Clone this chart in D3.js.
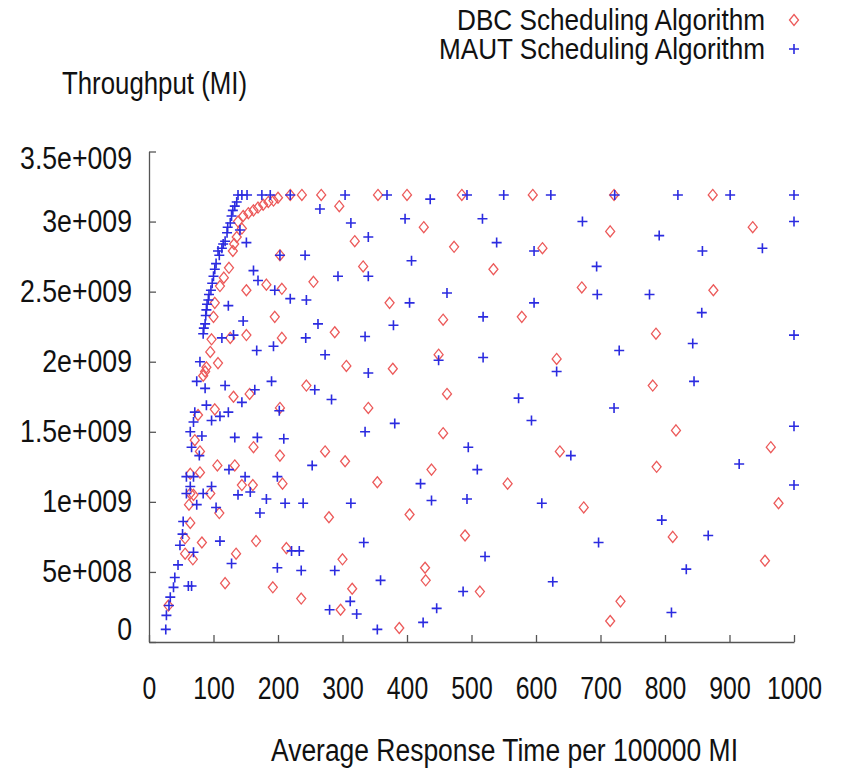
<!DOCTYPE html>
<html><head><meta charset="utf-8">
<script src="https://cdn.jsdelivr.net/npm/d3@7"></script>
<style>
body{margin:0;background:#fff}
svg{display:block}
text{font-family:"Liberation Sans",Arial,Helvetica,sans-serif;fill:#111}
</style>
</head><body>
<svg id="c" width="842" height="782"></svg>
<script>
const xTicks=[0,100,200,300,400,500,600,700,800,900,1000];
const xTickLabels=["0","100","200","300","400","500","600","700","800","900","1000"];
const yTicks=[0,5e8,1e9,1.5e9,2e9,2.5e9,3e9,3.5e9];
const yTickLabels=["0","5e+008","1e+009","1.5e+009","2e+009","2.5e+009","3e+009","3.5e+009"];
const seriesNames=["DBC Scheduling Algorithm","MAUT Scheduling Algorithm"];
const xTitle="Average Response Time per 100000 MI";
const yTitle="Throughput (MI)";

const dbcPoints=[
[219,3.19e9],[237,3.19e9],[267,3.19e9],[355,3.19e9],[400,3.19e9],[485,3.19e9],[595,3.19e9],[721,3.19e9],[874,3.19e9],
[295,3.11e9],[319,2.86e9],
[200,3.17e9],[193,3.15e9],[185,3.14e9],[177,3.12e9],[169,3.10e9],[162,3.08e9],[154,3.06e9],[146,3.04e9],[144,2.95e9],[136,2.89e9],[130,2.79e9],[124,2.67e9],[110,2.54e9],[102,2.42e9],[100,2.32e9],[97,2.16e9],[138,3.00e9],[132,2.84e9],[116,2.60e9],
[151,2.51e9],[182,2.55e9],[206,2.52e9],[203,2.76e9],[255,2.57e9],[195,2.32e9],[288,2.21e9],[151,2.19e9],[206,2.17e9],[332,2.68e9],
[126,2.17e9],[306,1.97e9],[95,2.07e9],[107,1.99e9],[89,1.96e9],[87,1.93e9],[84,1.90e9],[131,1.75e9],[156,1.77e9],[244,1.83e9],[102,1.66e9],[76,1.62e9],[203,1.67e9],[340,1.67e9],[162,1.39e9],[203,1.33e9],[273,1.36e9],[304,1.29e9],[71,1.44e9],[79,1.36e9],[106,1.26e9],[133,1.26e9],[64,1.20e9],[79,1.21e9],[144,1.12e9],[161,1.12e9],[207,1.13e9],
[64,1.06e9],[69,1.05e9],[95,1.06e9],[62,0.98e9],[109,0.92e9],[279,0.89e9],[64,0.85e9],[56,0.74e9],[82,0.71e9],[166,0.72e9],[213,0.67e9],[56,0.63e9],[68,0.59e9],[135,0.63e9],[300,0.59e9],[118,0.42e9],[192,0.39e9],[236,0.31e9],[315,0.38e9],[30,0.26e9],[297,0.23e9],
[426,2.96e9],[473,2.82e9],[610,2.81e9],[534,2.66e9],[671,2.53e9],[373,2.42e9],[456,2.30e9],[578,2.32e9],
[449,2.05e9],[632,2.02e9],[378,1.95e9],[462,1.77e9],[456,1.49e9],[637,1.36e9],[438,1.23e9],[354,1.14e9],[556,1.13e9],
[674,0.96e9],[404,0.91e9],[490,0.76e9],[428,0.53e9],[429,0.44e9],[513,0.36e9],[388,0.10e9],
[715,2.93e9],[936,2.96e9],[875,2.51e9],[786,2.20e9],
[781,1.83e9],[817,1.51e9],[964,1.39e9],[787,1.25e9],
[976,0.99e9],[812,0.75e9],[955,0.58e9],[731,0.29e9],[715,0.15e9]
];

const mautPoints=[
[138,3.19e9],[144,3.19e9],[152,3.19e9],[175,3.19e9],[188,3.19e9],[219,3.19e9],[304,3.19e9],[369,3.19e9],[436,3.16e9],[493,3.19e9],[550,3.19e9],[623,3.19e9],[722,3.19e9],[820,3.19e9],[901,3.19e9],[1000,3.19e9],
[133,3.11e9],[128,3.04e9],[126,2.99e9],[121,2.92e9],[118,2.86e9],[113,2.81e9],[107,2.79e9],[104,2.70e9],[100,2.61e9],[96,2.51e9],[92,2.44e9],[89,2.37e9],[87,2.27e9],[84,2.20e9],
[136,3.14e9],[130,3.08e9],[122,2.96e9],[115,2.84e9],[109,2.76e9],[102,2.66e9],[98,2.56e9],[93,2.48e9],[90,2.41e9],[88,2.33e9],[85,2.24e9],
[265,3.09e9],[313,2.99e9],[340,2.89e9],[141,2.94e9],[151,2.85e9],[162,2.65e9],[169,2.58e9],[195,2.51e9],[219,2.45e9],[244,2.44e9],[203,2.76e9],[242,2.76e9],[293,2.61e9],[262,2.27e9],[123,2.40e9],[146,2.29e9],[243,2.17e9],[335,2.18e9],[131,2.19e9],
[113,2.17e9],[167,2.08e9],[193,2.11e9],[273,2.05e9],[340,1.92e9],[79,2.00e9],[74,1.86e9],[87,1.81e9],[118,1.83e9],[144,1.71e9],[164,1.80e9],[190,1.86e9],[257,1.80e9],[283,1.73e9],[89,1.69e9],[123,1.64e9],[110,1.61e9],[97,1.58e9],[71,1.64e9],[69,1.57e9],[202,1.65e9],[64,1.50e9],[82,1.47e9],[133,1.46e9],[168,1.46e9],[209,1.45e9],[253,1.26e9],[335,1.50e9],[66,1.39e9],[78,1.33e9],[124,1.23e9],[149,1.18e9],[199,1.18e9],[58,1.18e9],[69,1.18e9],[64,1.11e9],[97,1.11e9],
[58,1.06e9],[84,1.06e9],[138,1.05e9],[157,1.07e9],[182,1.02e9],[211,0.99e9],[239,0.99e9],[313,0.99e9],[74,0.98e9],[104,0.96e9],[172,0.92e9],[53,0.86e9],[52,0.77e9],[48,0.69e9],[110,0.72e9],[221,0.65e9],[233,0.65e9],[333,0.71e9],[69,0.64e9],[45,0.55e9],[128,0.56e9],[199,0.53e9],[236,0.51e9],[288,0.51e9],[40,0.46e9],[38,0.39e9],[61,0.40e9],[66,0.40e9],[33,0.32e9],[31,0.26e9],[27,0.19e9],[26,0.09e9],[280,0.23e9],[312,0.29e9],[322,0.20e9],
[397,3.02e9],[517,3.02e9],[672,3.00e9],[539,2.85e9],[597,2.79e9],[407,2.72e9],[340,2.61e9],[462,2.49e9],[404,2.42e9],[597,2.42e9],[379,2.26e9],[518,2.32e9],
[449,2.01e9],[518,2.03e9],[632,1.93e9],[573,1.74e9],[381,1.56e9],[593,1.58e9],[495,1.39e9],[654,1.33e9],[509,1.23e9],[421,1.13e9],
[438,1.01e9],[493,1.02e9],[609,0.99e9],[521,0.61e9],[359,0.44e9],[487,0.36e9],[626,0.43e9],[446,0.24e9],[425,0.14e9],[354,0.09e9],
[791,2.90e9],[858,2.79e9],[1000,3.00e9],[951,2.81e9],[694,2.68e9],[695,2.48e9],[776,2.48e9],[857,2.35e9],[1000,2.19e9],[843,2.13e9],
[729,2.08e9],[845,1.86e9],[721,1.67e9],[1000,1.54e9],[915,1.27e9],[1000,1.12e9],
[795,0.87e9],[867,0.76e9],[697,0.71e9],[833,0.52e9],[810,0.21e9]
];

const svg=d3.select("#c");
const x=d3.scaleLinear().domain([0,1000]).range([149,794]);
const y=d3.scaleLinear().domain([0,3.5e9]).range([642,151.5]);
const FS=31, LEG_FS=29;
const RED="#ec5a5a", BLUE="#2b2be0", AXIS="#555";

function squeeze(sel,k){
  sel.each(function(){
    const w=this.getComputedTextLength();
    this.setAttribute("textLength",w*k);
    this.setAttribute("lengthAdjust","spacingAndGlyphs");
  });
}

const gx=svg.append("g").attr("transform",`translate(0,${y(0)})`)
  .call(d3.axisBottom(x).tickValues(xTicks).tickFormat((d,i)=>xTickLabels[i]).tickSizeInner(-7).tickSizeOuter(0).tickPadding(35));
const gy=svg.append("g").attr("transform",`translate(${x(0)},0)`)
  .call(d3.axisLeft(y).tickValues(yTicks).tickFormat((d,i)=>yTickLabels[i]).tickSizeInner(-7).tickSizeOuter(0).tickPadding(17));
[gx,gy].forEach(g=>{
  g.select(".domain").attr("stroke",AXIS).attr("stroke-width",1.3);
  g.selectAll(".tick line").attr("stroke",AXIS).attr("stroke-width",1.3);
  g.selectAll(".tick text").attr("font-size",FS).attr("fill","#111").attr("font-family",'"Liberation Sans",Arial,sans-serif');
});
squeeze(gx.selectAll(".tick text"),0.8);
squeeze(gy.selectAll(".tick text"),0.86);
// end labels sit slightly inside the axis extent, as in the reference
gy.selectAll(".tick text").attr("dy",(d)=> d===0 ? "-0.08em" : d===3.5e9 ? "0.55em" : "0.32em");

const diamond="M0,-5.5L4.5,0L0,5.5L-4.5,0Z";
const plus="M-5,0H5M0,-5V5";

svg.append("g").selectAll("path").data(dbcPoints).join("path")
  .attr("d",diamond).attr("transform",d=>`translate(${x(d[0])},${y(d[1])})`)
  .attr("fill","none").attr("stroke",RED).attr("stroke-width",1.3);
svg.append("g").selectAll("path").data(mautPoints).join("path")
  .attr("d",plus).attr("transform",d=>`translate(${x(d[0])},${y(d[1])})`)
  .attr("fill","none").attr("stroke",BLUE).attr("stroke-width",1.6);

// legend
const leg=[{name:seriesNames[0],cy:20,shape:diamond,color:RED,w:1.3,len:308},
           {name:seriesNames[1],cy:49,shape:plus,color:BLUE,w:1.6,len:326}];
leg.forEach(l=>{
  svg.append("text").attr("x",765).attr("y",l.cy+10).attr("text-anchor","end")
    .attr("font-size",LEG_FS).attr("textLength",l.len).attr("lengthAdjust","spacingAndGlyphs").text(l.name);
  svg.append("path").attr("d",l.shape).attr("transform",`translate(794,${l.cy})`)
    .attr("fill","none").attr("stroke",l.color).attr("stroke-width",l.w);
});

svg.append("text").attr("x",62).attr("y",94).attr("font-size",FS)
  .attr("textLength",185).attr("lengthAdjust","spacingAndGlyphs").text(yTitle);
svg.append("text").attr("x",271).attr("y",761).attr("font-size",FS)
  .attr("textLength",467).attr("lengthAdjust","spacingAndGlyphs").text(xTitle);
</script>
</body></html>
